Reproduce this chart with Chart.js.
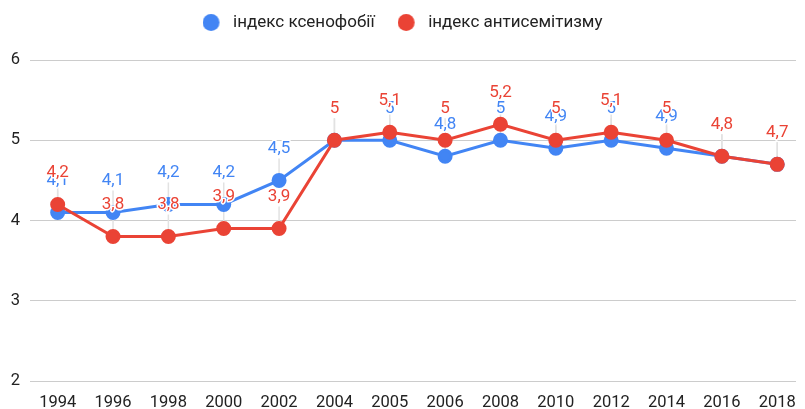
<!DOCTYPE html>
<html>
<head>
<meta charset="utf-8">
<script src="https://cdn.jsdelivr.net/npm/chart.js@4.4.1/dist/chart.umd.min.js"></script>
<style>
html,body{margin:0;padding:0;background:#fff;overflow:hidden;}
#wrap{width:805px;height:409px;position:relative;}
</style>
</head>
<body>
<div id="wrap"><canvas id="c" width="805" height="409"></canvas></div>
<script>
const years = ['1994','1996','1998','2000','2002','2004','2005','2006','2008','2010','2012','2014','2016','2018'];
const xenophobia = [4.1, 4.1, 4.2, 4.2, 4.5, 5, 5, 4.8, 5, 4.9, 5, 4.9, 4.8, 4.7];
const antisemitism = [4.2, 3.8, 3.8, 3.9, 3.9, 5, 5.1, 5, 5.2, 5, 5.1, 5, 4.8, 4.7];
const seriesNames = ['індекс ксенофобії', 'індекс антисемітизму'];
const yTicks = [2, 3, 4, 5, 6];

const BLUE = '#4285F4', RED = '#EA4335';
const COLORS = [BLUE, RED];
const FONT = 'Roboto, "Noto Sans", Arial, sans-serif';

const fmt = v => String(v).replace('.', ',');

function legendDot(color) {
  const c = document.createElement('canvas');
  c.width = 22; c.height = 17;
  const g = c.getContext('2d');
  g.fillStyle = color;
  g.beginPath();
  g.arc(8.5, 8.5, 8.5, 0, Math.PI * 2);
  g.fill();
  return c;
}

const labelPlugin = {
  id: 'valueLabels',
  beforeDatasetsDraw(chart) {
    const ctx = chart.ctx;
    ctx.save();
    ctx.strokeStyle = '#e2e2e2';
    ctx.lineWidth = 1.5;
    [0, 1].forEach(di => {
      chart.getDatasetMeta(di).data.forEach(p => {
        ctx.beginPath();
        ctx.moveTo(p.x, p.y);
        ctx.lineTo(p.x, p.y - 22);
        ctx.stroke();
      });
    });
    ctx.restore();
  },
  afterDatasetsDraw(chart) {
    const ctx = chart.ctx;
    ctx.save();
    ctx.font = '17px ' + FONT;
    ctx.textAlign = 'center';
    ctx.textBaseline = 'middle';
    ctx.lineJoin = 'round';
    [0, 1].forEach(di => {
      const ds = chart.data.datasets[di];
      chart.getDatasetMeta(di).data.forEach((p, i) => {
        const t = fmt(ds.data[i].y);
        const y = p.y - 31.5;
        ctx.strokeStyle = '#ffffff';
        ctx.lineWidth = 3;
        ctx.strokeText(t, p.x, y);
        ctx.fillStyle = ds.borderColor;
        ctx.fillText(t, p.x, y);
      });
    });
    ctx.restore();
  }
};

const mk = (arr) => arr.map((v, i) => ({x: i, y: v}));

new Chart(document.getElementById('c'), {
  type: 'line',
  data: {
    datasets: [
      {label: seriesNames[0], data: mk(xenophobia), borderColor: BLUE, backgroundColor: BLUE,
       pointBackgroundColor: BLUE, pointBorderColor: BLUE, borderWidth: 3, pointRadius: 6, order: 1},
      {label: seriesNames[1], data: mk(antisemitism), borderColor: RED, backgroundColor: RED,
       pointBackgroundColor: RED, pointBorderColor: RED, borderWidth: 3, pointRadius: 6, order: 0}
    ]
  },
  options: {
    responsive: false,
    animation: false,
    layout: {padding: {top: -9, right: 0, left: 0, bottom: 0}},
    plugins: {
      tooltip: {enabled: false},
      title: {display: true, text: '', position: 'top', weight: 500, padding: 0,
              font: {size: 10, lineHeight: 1.9}},
      legend: {
        display: true,
        position: 'top',
        labels: {
          usePointStyle: true,
          pointStyleWidth: 22,
          boxHeight: 17,
          padding: 23,
          color: '#222',
          font: {family: FONT, size: 17},
          sort: (a, b) => a.datasetIndex - b.datasetIndex,
          generateLabels: (chart) => {
            const items = Chart.defaults.plugins.legend.labels.generateLabels(chart);
            items.forEach(it => { it.pointStyle = legendDot(COLORS[it.datasetIndex]); });
            return items;
          }
        }
      }
    },
    scales: {
      x: {
        type: 'linear',
        min: -0.5,
        max: 13 + 19 / 56,
        grid: {display: false},
        border: {display: false},
        afterBuildTicks: (axis) => { axis.ticks = years.map((y, i) => ({value: i})); },
        afterFit: (axis) => { axis.height = 28; },
        ticks: {
          color: '#222',
          font: {family: FONT, size: 16.5},
          padding: 4,
          maxRotation: 0,
          autoSkip: false,
          callback: (v) => years[v] ?? ''
        }
      },
      y: {
        min: 2,
        max: 6,
        afterBuildTicks: (axis) => { axis.ticks = yTicks.map(v => ({value: v})); },
        afterFit: (axis) => { axis.width = 30; },
        grid: {color: '#cccccc', lineWidth: 1, drawTicks: false},
        border: {display: false},
        ticks: {
          color: '#222',
          font: {family: FONT, size: 16.5},
          padding: 10,
          callback: (v) => String(v)
        }
      }
    }
  },
  plugins: [labelPlugin]
});
</script>
</body>
</html>
